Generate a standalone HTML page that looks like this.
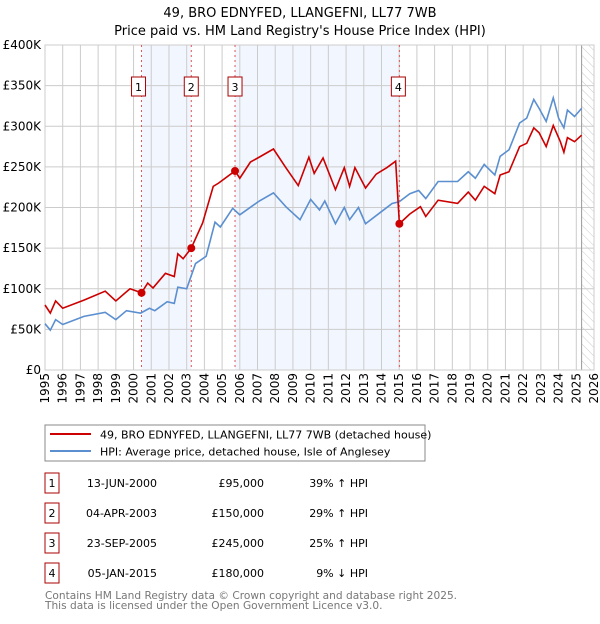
<!DOCTYPE html>
<html><head><meta charset="utf-8"><style>
body{margin:0;background:#fff;font-family:"DejaVu Sans","Liberation Sans",sans-serif;}
svg text{font-family:"DejaVu Sans","Liberation Sans",sans-serif;}
</style></head><body>
<svg id="c" width="600" height="620" xmlns="http://www.w3.org/2000/svg">
<defs><pattern id="hatch" width="6" height="6" patternUnits="userSpaceOnUse" patternTransform="rotate(-45)"><line x1="0" y1="0" x2="0" y2="6" stroke="#ccc" stroke-width="1"/></pattern></defs>
<text x="300" y="17" text-anchor="middle" font-size="13">49, BRO EDNYFED, LLANGEFNI, LL77 7WB</text>
<text x="300" y="35" text-anchor="middle" font-size="13">Price paid vs. HM Land Registry's House Price Index (HPI)</text>
<g id="plot"></g>
<g>
<rect x="45" y="425" width="380" height="36" fill="#fff" stroke="#888"/>
<line x1="50" y1="434" x2="91" y2="434" stroke="#cc0000" stroke-width="2"/>
<text x="100" y="438.5" font-size="11">49, BRO EDNYFED, LLANGEFNI, LL77 7WB (detached house)</text>
<line x1="50" y1="451" x2="91" y2="451" stroke="#5b8fd0" stroke-width="2"/>
<text x="100" y="455.5" font-size="11">HPI: Average price, detached house, Isle of Anglesey</text>
</g>
<g id="table"></g>
<text x="45" y="599" font-size="10.6" fill="#777">Contains HM Land Registry data © Crown copyright and database right 2025.</text>
<text x="45" y="609" font-size="10.6" fill="#777">This data is licensed under the Open Government Licence v3.0.</text>
</svg>
<script>
const hpiYears=[1995.0,1995.3,1995.6,1996.0,1997.2,1998.4,1999.0,1999.6,2000.4,2000.9,2001.2,2001.9,2002.3,2002.5,2003.0,2003.5,2004.1,2004.6,2004.9,2005.6,2006.0,2007.1,2007.9,2008.6,2009.4,2010.0,2010.5,2010.8,2011.4,2011.9,2012.2,2012.7,2013.1,2014.0,2014.6,2015.0,2015.6,2016.1,2016.5,2017.2,2018.3,2018.9,2019.3,2019.8,2020.4,2020.7,2021.2,2021.8,2022.2,2022.6,2022.9,2023.3,2023.7,2024.0,2024.3,2024.5,2024.9,2025.3];
const hpiValues=[57,49,62,56,66,71,62,73,70,76,73,84,82,102,100,131,140,182,176,199,191,208,218,201,185,210,197,208,180,200,185,200,180,195,205,207,217,221,211,232,232,244,236,253,240,263,271,304,310,333,322,306,335,310,298,320,312,322];
const propYears=[1995.0,1995.3,1995.6,1996.0,1997.2,1998.4,1999.0,1999.8,2000.45,2000.8,2001.1,2001.8,2002.3,2002.5,2002.8,2003.26,2003.9,2004.5,2004.8,2005.73,2006.0,2006.6,2007.1,2007.9,2008.6,2009.3,2009.9,2010.2,2010.7,2011.4,2011.9,2012.2,2012.5,2013.1,2013.7,2014.3,2014.8,2015.01,2015.6,2016.2,2016.5,2017.2,2018.3,2018.9,2019.3,2019.8,2020.4,2020.7,2021.2,2021.8,2022.2,2022.6,2022.9,2023.3,2023.7,2024.1,2024.3,2024.5,2024.9,2025.3];
const propValues=[80,70,85,76,86,97,85,100,95,107,101,119,115,143,137,150,181,226,230,245,236,256,262,272,249,227,262,242,261,222,249,226,249,224,241,249,257,180,192,201,189,209,205,219,209,226,217,240,244,275,279,298,292,275,301,281,268,286,281,289];
const saleLabels=["1","2","3","4"];
const saleYears=[2000.45,2003.26,2005.73,2015.01];
const saleValues=[95,150,245,180];
const saleDates=["13-JUN-2000","04-APR-2003","23-SEP-2005","05-JAN-2015"];
const salePrices=["£95,000","£150,000","£245,000","£180,000"];
const saleDiffs=["39% ↑ HPI","29% ↑ HPI","25% ↑ HPI","9% ↓ HPI"];
const yTicks=[0,50,100,150,200,250,300,350,400];
const yTickLabels=["£0","£50K","£100K","£150K","£200K","£250K","£300K","£350K","£400K"];
const xTicks=[1995,1996,1997,1998,1999,2000,2001,2002,2003,2004,2005,2006,2007,2008,2009,2010,2011,2012,2013,2014,2015,2016,2017,2018,2019,2020,2021,2022,2023,2024,2025,2026];
const dataEnd=2025.3;

const L=45,R=594,T=45,B=370;
const x=y=>L+(y-1995)/(2026-1995)*(R-L);
const yv=v=>B-v/400*(B-T);
const NS="http://www.w3.org/2000/svg";
const plot=document.getElementById('plot');
function mk(tag,attrs,parent){const e=document.createElementNS(NS,tag);for(const k in attrs)e.setAttribute(k,attrs[k]);(parent||plot).appendChild(e);return e;}
for(let i=0;i<saleYears.length;i+=2){
 const r=mk('rect',{x:x(saleYears[i]),y:T,width:x(saleYears[i+1])-x(saleYears[i]),height:B-T,fill:'#eef3fd',opacity:0.75});
 
 
}
const h=mk('rect',{x:x(dataEnd),y:T,width:R-x(dataEnd),height:B-T,fill:'url(#hatch)'});


xTicks.forEach(t=>{const g=mk('line',{x1:x(t),y1:T,x2:x(t),y2:B,stroke:'#ccc','stroke-width':1});
 
 const tx=mk('text',{x:0,y:0,'text-anchor':'end','font-size':12,transform:`translate(${x(t)+4},${B+3}) rotate(-90)`});tx.textContent=t;
 });
yTicks.forEach((t,i)=>{const g=mk('line',{x1:L,y1:yv(t),x2:R,y2:yv(t),stroke:'#ccc','stroke-width':1});
 
 const tx=mk('text',{x:L-4,y:yv(t)+4,'text-anchor':'end','font-size':12});tx.textContent=yTickLabels[i];
 });
const dl=mk('line',{x1:x(dataEnd),y1:T,x2:x(dataEnd),y2:B,stroke:'#999','stroke-width':1});

const fr=mk('rect',{x:L,y:T,width:R-L,height:B-T,fill:'none',stroke:'#ccc'});

saleYears.forEach((s,i)=>{const l=mk('line',{x1:x(s),y1:T,x2:x(s),y2:B,stroke:'#e05555','stroke-dasharray':'2,3','stroke-width':1});
 });
const hp=mk('polyline',{points:hpiYears.map((y,i)=>x(y)+','+yv(hpiValues[i])).join(' '),fill:'none',stroke:'#5b8fd0','stroke-width':1.6});

const pp=mk('polyline',{points:propYears.map((y,i)=>x(y)+','+yv(propValues[i])).join(' '),fill:'none',stroke:'#cc0000','stroke-width':1.6});

saleYears.forEach((s,i)=>{
 const d=mk('circle',{cx:x(s),cy:yv(saleValues[i]),r:4,fill:'#cc0000'});
 
 const bx=x(s)-7-(i==3?1:(i==0?3:0));
 const b=mk('rect',{x:bx,y:77,width:14,height:19,fill:'#fff',stroke:'#aa0000'});
 
 const t=mk('text',{x:bx+7,y:91,'text-anchor':'middle','font-size':11});t.textContent=saleLabels[i];
 
});
const tb=document.getElementById('table');
saleLabels.forEach((n,i)=>{const cy=483+i*30;
 const b=mk('rect',{x:45,y:cy-10,width:14,height:20,fill:'#fff',stroke:'#aa0000'},tb);
 
 const cells=[[52,'middle',n],[157,'end',saleDates[i]],[264,'end',salePrices[i]],[368,'end',saleDiffs[i]]];
 cells.forEach(c=>{const t=mk('text',{x:c[0],y:cy+4,'text-anchor':c[1],'font-size':11},tb);t.textContent=c[2];
  });
});
</script>
</body></html>
